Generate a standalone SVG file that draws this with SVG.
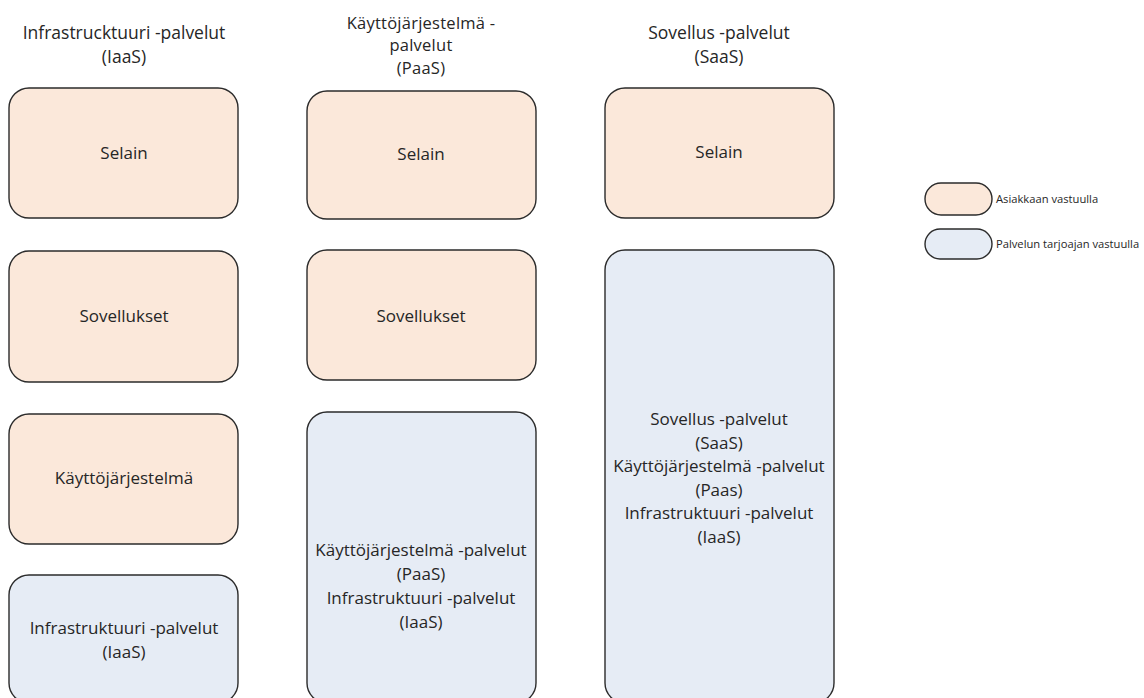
<svg xmlns="http://www.w3.org/2000/svg" width="1144" height="698" viewBox="0 0 1144 698">
  <style>
    text { font-family: "Open Sans", "Liberation Sans", sans-serif; fill: #262626; text-anchor: middle; }
    .title { font-size: 17.5px; }
    .title-3 { font-size: 16.5px; letter-spacing: 0.25px; }
    .label { font-size: 17px; }
    .legend { font-size: 11.2px; text-anchor: start; }
    .client { fill: #fbe8da; stroke: #2b2b2b; stroke-width: 1.4; }
    .provider { fill: #e6ecf5; stroke: #2b2b2b; stroke-width: 1.4; }
  </style>
  <rect width="1144" height="698" fill="#ffffff"/>

  <!-- column headings -->
  <g id="heading-iaas">
    <text class="title" x="124" y="39">Infrastrucktuuri -palvelut</text>
    <text class="title" x="124" y="63">(IaaS)</text>
  </g>
  <g id="heading-paas">
    <text class="title-3" x="421" y="28.5">Käyttöjärjestelmä -</text>
    <text class="title-3" x="421" y="51">palvelut</text>
    <text class="title-3" x="421" y="73.5">(PaaS)</text>
  </g>
  <g id="heading-saas">
    <text class="title" x="719" y="39">Sovellus -palvelut</text>
    <text class="title" x="719" y="63">(SaaS)</text>
  </g>

  <!-- IaaS column -->
  <g id="iaas-selain">
    <rect class="client" x="9" y="88" width="229" height="130" rx="20"/>
    <text class="label" x="124" y="159">Selain</text>
  </g>
  <g id="iaas-sovellukset">
    <rect class="client" x="9" y="251" width="229" height="131" rx="20"/>
    <text class="label" x="124" y="322">Sovellukset</text>
  </g>
  <g id="iaas-kayttojarjestelma">
    <rect class="client" x="9" y="414" width="229" height="130" rx="20"/>
    <text class="label" x="124" y="484">Käyttöjärjestelmä</text>
  </g>
  <g id="iaas-infra">
    <rect class="provider" x="9" y="575" width="229" height="128" rx="20"/>
    <text class="label" x="124" y="634">Infrastruktuuri -palvelut</text>
    <text class="label" x="124" y="658">(IaaS)</text>
  </g>

  <!-- PaaS column -->
  <g id="paas-selain">
    <rect class="client" x="307" y="91" width="229" height="128" rx="20"/>
    <text class="label" x="421" y="160">Selain</text>
  </g>
  <g id="paas-sovellukset">
    <rect class="client" x="307" y="250" width="229" height="130" rx="20"/>
    <text class="label" x="421" y="322">Sovellukset</text>
  </g>
  <g id="paas-platform">
    <rect class="provider" x="307" y="412" width="229" height="291" rx="20"/>
    <text class="label" x="421" y="556">Käyttöjärjestelmä -palvelut</text>
    <text class="label" x="421" y="580">(PaaS)</text>
    <text class="label" x="421" y="604">Infrastruktuuri -palvelut</text>
    <text class="label" x="421" y="628">(IaaS)</text>
  </g>

  <!-- SaaS column -->
  <g id="saas-selain">
    <rect class="client" x="605" y="88" width="229" height="130" rx="20"/>
    <text class="label" x="719" y="158">Selain</text>
  </g>
  <g id="saas-service">
    <rect class="provider" x="605" y="250" width="229" height="453" rx="20"/>
    <text class="label" x="719" y="425">Sovellus -palvelut</text>
    <text class="label" x="719" y="448.5">(SaaS)</text>
    <text class="label" x="719" y="472">Käyttöjärjestelmä -palvelut</text>
    <text class="label" x="719" y="495.5">(Paas)</text>
    <text class="label" x="719" y="519">Infrastruktuuri -palvelut</text>
    <text class="label" x="719" y="542.5">(IaaS)</text>
  </g>

  <!-- legend -->
  <g id="legend-client">
    <rect class="client" x="925" y="183" width="67" height="32" rx="16"/>
    <text class="legend" x="996" y="203">Asiakkaan vastuulla</text>
  </g>
  <g id="legend-provider">
    <rect class="provider" x="925" y="229" width="67" height="30" rx="15"/>
    <text class="legend" x="996" y="248">Palvelun tarjoajan vastuulla</text>
  </g>

  <g id="connectors"></g>
</svg>
